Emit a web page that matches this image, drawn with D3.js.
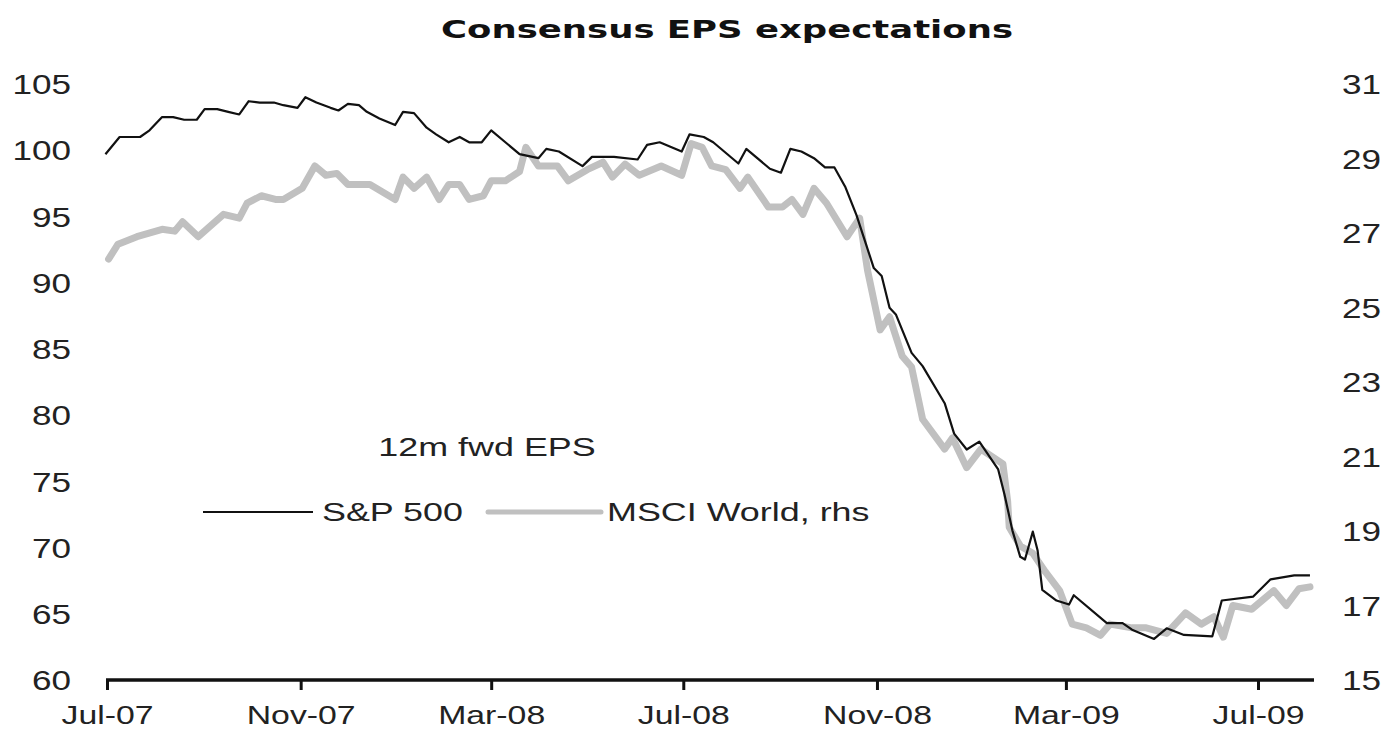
<!DOCTYPE html>
<html><head><meta charset="utf-8">
<script src="https://cdn.jsdelivr.net/npm/d3@7"></script>
<style>
html,body{margin:0;padding:0;background:#fff;}
svg{display:block;}
text{font-family:"Liberation Sans",Arial,sans-serif;fill:#1e1e1e;}
</style></head><body>
<svg id="chart" width="1385" height="731"></svg>
<script>
// ---------- data ----------
const titleText = "Consensus EPS expectations";
const annotationText = "12m fwd EPS";
const seriesNames = ["S&P 500", "MSCI World, rhs"];
const xTickLabels = ["Jul-07","Nov-07","Mar-08","Jul-08","Nov-08","Mar-09","Jul-09"];
const leftTicks = [60,65,70,75,80,85,90,95,100,105];
const rightTicks = [15,17,19,21,23,25,27,29,31];

const spxDates = ["2007-06-30","2007-07-09","2007-07-22","2007-07-28","2007-08-05","2007-08-12","2007-08-19","2007-08-27",
"2007-09-01","2007-09-09","2007-09-16","2007-09-23","2007-09-29","2007-10-06","2007-10-15","2007-10-21","2007-10-30",
"2007-11-04","2007-11-11","2007-11-20","2007-11-25","2007-12-01","2007-12-08","2007-12-13","2007-12-21","2007-12-31",
"2008-01-05","2008-01-12","2008-01-20","2008-01-26","2008-02-03","2008-02-10","2008-02-16","2008-02-24","2008-03-01",
"2008-03-10","2008-03-19","2008-03-31","2008-04-05","2008-04-13","2008-04-28","2008-05-04","2008-05-18","2008-06-02",
"2008-06-08","2008-06-16","2008-06-30","2008-07-05","2008-07-14","2008-07-20","2008-08-05","2008-08-10","2008-08-25",
"2008-09-01","2008-09-07","2008-09-14","2008-09-22","2008-09-29","2008-10-05","2008-10-12","2008-10-19","2008-10-30",
"2008-11-04","2008-11-09","2008-11-13","2008-11-23","2008-11-30","2008-12-14","2008-12-20","2008-12-28","2009-01-05",
"2009-01-17","2009-01-21","2009-01-26","2009-01-31","2009-02-03","2009-02-08","2009-02-11","2009-02-14","2009-02-23",
"2009-03-03","2009-03-06","2009-03-27","2009-04-06","2009-04-12","2009-04-26","2009-05-04","2009-05-15","2009-06-02",
"2009-06-08","2009-06-28","2009-07-09","2009-07-24","2009-08-03"];
const spxValues = [99.7,101.0,101.0,101.5,102.5,102.5,102.3,102.3,
103.1,103.1,102.9,102.7,103.7,103.6,103.6,103.4,103.2,
104.0,103.6,103.2,103.0,103.5,103.4,102.9,102.4,101.9,
102.9,102.8,101.7,101.2,100.6,101.0,100.6,100.6,101.5,
100.6,99.7,99.4,100.1,99.9,98.8,99.5,99.5,99.3,
100.4,100.6,99.9,101.2,101.0,100.6,99.0,100.1,98.6,
98.3,100.1,99.9,99.4,98.7,98.7,97.2,95.1,91.1,
90.5,88.1,87.6,84.7,83.7,80.9,78.6,77.4,78.0,
75.9,74.0,71.3,69.3,69.1,71.2,69.8,66.8,66.0,
65.7,66.4,64.3,64.3,63.8,63.1,63.9,63.4,63.3,
66.0,66.3,67.6,67.9,67.9];

const msciDates = ["2007-07-02","2007-07-08","2007-07-20","2007-08-05","2007-08-13","2007-08-18","2007-08-28","2007-09-13",
"2007-09-23","2007-09-28","2007-10-07","2007-10-16","2007-10-21","2007-11-02","2007-11-10","2007-11-17","2007-11-24",
"2007-12-01","2007-12-15","2007-12-31","2008-01-05","2008-01-12","2008-01-20","2008-01-28","2008-02-03","2008-02-10",
"2008-02-16","2008-02-25","2008-03-01","2008-03-10","2008-03-19","2008-03-23","2008-03-31","2008-04-12","2008-04-19",
"2008-05-01","2008-05-11","2008-05-17","2008-05-25","2008-06-03","2008-06-17","2008-06-30","2008-07-06","2008-07-13",
"2008-07-19","2008-07-28","2008-08-06","2008-08-11","2008-08-24","2008-09-02","2008-09-08","2008-09-15","2008-09-22",
"2008-09-30","2008-10-13","2008-10-21","2008-10-26","2008-11-03","2008-11-09","2008-11-17","2008-11-23","2008-11-30",
"2008-12-14","2008-12-19","2008-12-28","2009-01-06","2009-01-20","2009-01-23","2009-01-24","2009-01-31","2009-02-08",
"2009-02-16","2009-02-25","2009-03-05","2009-03-14","2009-03-23","2009-03-29","2009-04-12","2009-04-21","2009-05-04",
"2009-05-16","2009-05-26","2009-06-03","2009-06-09","2009-06-15","2009-06-27","2009-07-11","2009-07-19","2009-07-27",
"2009-08-03"];
const msciValues = [26.3,26.7,26.9,27.1,27.05,27.3,26.9,27.5,
27.4,27.8,28.0,27.9,27.9,28.2,28.8,28.55,28.6,
28.3,28.3,27.9,28.5,28.2,28.5,27.9,28.3,28.3,
27.9,28.0,28.4,28.4,28.65,29.3,28.8,28.8,28.4,
28.7,28.9,28.5,28.85,28.55,28.8,28.55,29.4,29.3,
28.8,28.7,28.2,28.5,27.7,27.7,27.9,27.5,28.2,
27.8,26.9,27.4,26.0,24.4,24.75,23.7,23.4,22.0,
21.2,21.5,20.7,21.2,20.8,19.8,19.1,18.6,18.4,
17.9,17.4,16.5,16.4,16.2,16.5,16.4,16.4,16.25,
16.8,16.5,16.7,16.15,17.0,16.9,17.4,17.0,17.45,
17.5];

// ---------- layout ----------
const parseDate = d3.timeParse("%Y-%m-%d");
const parseTick = d3.timeParse("%b-%y");
const svg = d3.select("#chart");
const plotTop = 84, plotBottom = 680;
const xStartPx = 107, xEndPx = 1258;   // Jul-07 .. Jul-09
const axisLineLeft = 106, axisLineRight = 1314;
const textSX = 1.3, legendSX = 1.38;

const tickDates = xTickLabels.map(parseTick);
const x = d3.scaleTime().domain([tickDates[0], tickDates[tickDates.length-1]]).range([xStartPx, xEndPx]);
const yL = d3.scaleLinear().domain([60,105]).range([plotBottom, plotTop]);
const yR = d3.scaleLinear().domain([15,31]).range([plotBottom, plotTop]);

const spx = spxDates.map((d,i)=>({date:parseDate(d), v:spxValues[i]}));
const msci = msciDates.map((d,i)=>({date:parseDate(d), v:msciValues[i]}));

// title
svg.append("text")
  .attr("x", 727).attr("y", 38)
  .attr("text-anchor","middle")
  .attr("textLength", 572).attr("lengthAdjust","spacingAndGlyphs")
  .style("font-family",'"DejaVu Sans", Verdana, sans-serif')
  .style("font-weight","bold").style("font-size","25px").style("fill","#111")
  .text(titleText);

// x axis
const xAxis = d3.axisBottom(x).tickValues(tickDates).tickFormat(d3.timeFormat("%b-%y"))
  .tickSize(10).tickSizeOuter(0);
const gx = svg.append("g").attr("transform",`translate(0,${plotBottom})`).call(xAxis);
gx.select(".domain").remove();
gx.selectAll(".tick line").attr("stroke","#111").attr("stroke-width",3);
gx.selectAll(".tick text")
  .attr("y",0).attr("dy",0)
  .attr("transform",`translate(0,44) scale(${textSX},1)`)
  .style("font-size","26px").style("fill","#222");
gx.append("line").attr("x1",axisLineLeft).attr("x2",axisLineRight).attr("y1",0).attr("y2",0)
  .attr("stroke","#111").attr("stroke-width",3.5);

// left axis labels
const gl = svg.append("g").attr("transform","translate(71,0)")
  .call(d3.axisLeft(yL).tickValues(leftTicks).tickSize(0).tickPadding(0));
gl.select(".domain").remove();
gl.selectAll(".tick text").attr("x",0).attr("dy","0.36em")
  .attr("transform",`scale(${textSX},1)`).style("font-size","27px").style("fill","#222");

// right axis labels
const gr = svg.append("g").attr("transform","translate(1342,0)")
  .call(d3.axisRight(yR).tickValues(rightTicks).tickSize(0).tickPadding(0));
gr.select(".domain").remove();
gr.selectAll(".tick text").attr("x",0).attr("dy","0.36em")
  .attr("transform",`scale(${textSX},1)`).style("font-size","27px").style("fill","#222");

// lines
const lineL = d3.line().x(d=>x(d.date)).y(d=>yL(d.v));
const lineR = d3.line().x(d=>x(d.date)).y(d=>yR(d.v));
svg.append("path").datum(msci).attr("d",lineR)
  .attr("fill","none").attr("stroke","#c0c0c0").attr("stroke-width",7)
  .attr("stroke-linejoin","round").attr("stroke-linecap","round");
svg.append("path").datum(spx).attr("d",lineL)
  .attr("fill","none").attr("stroke","#111").attr("stroke-width",2.2)
  .attr("stroke-linejoin","round");

// annotation
svg.append("text").attr("transform",`translate(487,456) scale(${legendSX},1)`)
  .attr("text-anchor","middle").style("font-size","26px").style("fill","#222")
  .text(annotationText);

// legend
const legendY = 512;
svg.append("line").attr("x1",203).attr("x2",313).attr("y1",legendY).attr("y2",legendY)
  .attr("stroke","#111").attr("stroke-width",2.2);
svg.append("text").attr("transform",`translate(322,${legendY+9}) scale(${legendSX},1)`)
  .style("font-size","26px").style("fill","#222").text(seriesNames[0]);
svg.append("line").attr("x1",488).attr("x2",601).attr("y1",legendY).attr("y2",legendY)
  .attr("stroke","#c0c0c0").attr("stroke-width",5).attr("stroke-linecap","round");
svg.append("text").attr("transform",`translate(607,${legendY+9}) scale(${legendSX},1)`)
  .style("font-size","26px").style("fill","#222").text(seriesNames[1]);
</script>
</body></html>
